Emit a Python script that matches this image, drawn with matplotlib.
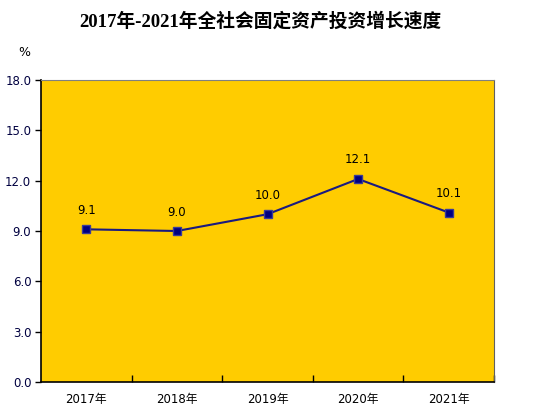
import numpy as np
import matplotlib
matplotlib.use("Agg")
import matplotlib.pyplot as plt

plt.rcParams['font.family'] = ['DejaVu Sans', 'Noto Sans CJK SC']

years = ["2017年", "2018年", "2019年", "2020年", "2021年"]
growth = [9.1, 9.0, 10.0, 12.1, 10.1]
y_ticks = [0, 3, 6, 9, 12, 15, 18]

fig = plt.figure(figsize=(5.38, 4.18), dpi=100)
ax = fig.add_axes([41/538, 36/418, 453/538, 302/418])
ax.set_facecolor("#FFCC00")

x = np.arange(len(years))
ax.plot(x, growth, color="#1A1A80", linewidth=1.5, marker="s", markersize=5.5,
        markerfacecolor="#000080", markeredgecolor="#3A3A9A")
for xi, v in zip(x, growth):
    ax.annotate(f"{v:.1f}", (xi, v), xytext=(0, 9), textcoords="offset points",
                ha="center", va="bottom", fontsize=8.5, color="black")

ax.set_xlim(-0.5, len(years) - 0.5)
ax.set_ylim(0, 18)
ax.set_yticks(y_ticks)
ax.set_yticklabels([f"{t:.1f}" for t in y_ticks], fontsize=8.5, color="#000040")
ax.tick_params(axis="y", direction="out", length=4, width=1, pad=3)

ax.set_xticks(x)
ax.set_xticklabels(years, fontsize=8.5, family=['DejaVu Sans', 'Noto Sans CJK SC'])
ax.tick_params(axis="x", length=0, pad=8)
ax.set_xticks(np.arange(0.5, len(years), 1), minor=True)
ax.tick_params(axis="x", which="minor", direction="in", length=5, width=1)

for s in ["left", "bottom"]:
    ax.spines[s].set_color("black")
    ax.spines[s].set_linewidth(1.2)
ax.spines["top"].set_color("#808080")
ax.spines["right"].set_color("#606060")

fig.text(24/538, 1 - 52/418, "%", fontsize=9, ha="center", va="center")
fig.text(260/538, 1 - 21/418, "2017年-2021年全社会固定资产投资增长速度",
         fontsize=13.5, fontweight="bold", ha="center", va="center",
         family=['Liberation Serif', 'Noto Sans CJK SC'])

fig.savefig("out.png", dpi=100)
